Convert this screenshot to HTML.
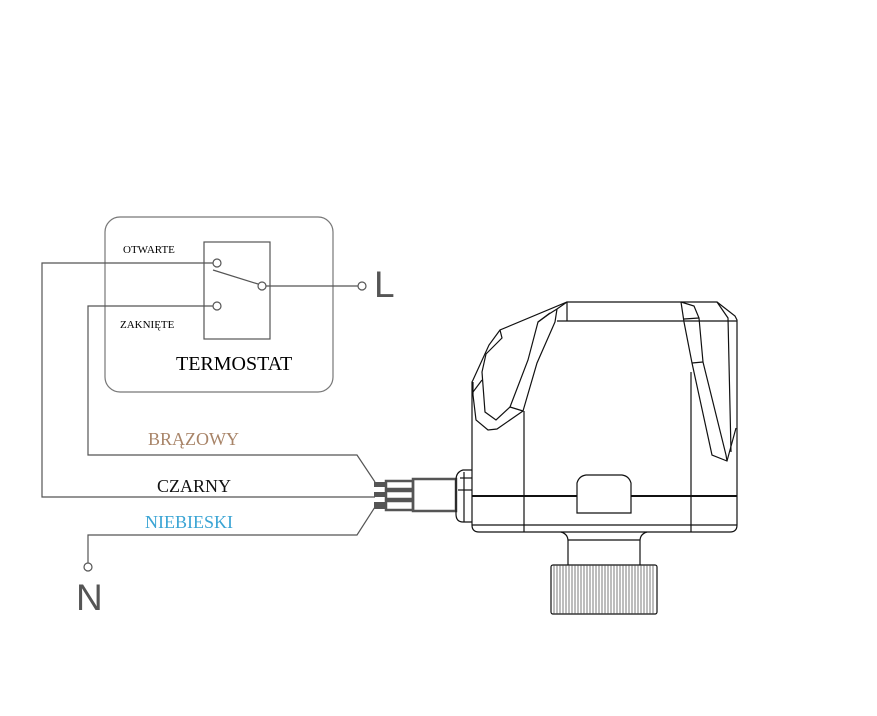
<!DOCTYPE html>
<html><head><meta charset="utf-8"><style>html,body{margin:0;padding:0;background:#fff}svg{display:block}</style></head>
<body>
<svg width="877" height="716" viewBox="0 0 877 716" xmlns="http://www.w3.org/2000/svg">
<rect width="877" height="716" fill="#fff"/>
<rect x="105" y="217" width="228" height="175" rx="15" fill="none" stroke="#777" stroke-width="1.2"/>
<rect x="204" y="242" width="66" height="97" fill="none" stroke="#555" stroke-width="1.2"/>
<g fill="#fff" stroke="#555" stroke-width="1.2">
<line x1="213" y1="270" x2="258" y2="284"/>
<line x1="266" y1="286" x2="358" y2="286"/>
<polyline points="213,263 42,263 42,497 375,497" fill="none"/>
<polyline points="213,306 88,306 88,455 357,455 375,482" fill="none"/>
<polyline points="375,507 357,535 88,535 88,563" fill="none"/>
<circle cx="217" cy="263" r="4"/>
<circle cx="262" cy="286" r="4"/>
<circle cx="217" cy="306" r="4"/>
<circle cx="362" cy="286" r="4"/>
<circle cx="88" cy="567" r="4"/>
</g>
<g font-family="Liberation Serif, serif">
<text x="123" y="253" font-size="11">OTWARTE</text>
<text x="120" y="328" font-size="11">ZAKNIĘTE</text>
<text x="176" y="370" font-size="20">TERMOSTAT</text>
<text x="148" y="445" font-size="18" fill="#a88468">BRĄZOWY</text>
<text x="157" y="492" font-size="18" fill="#111">CZARNY</text>
<text x="145" y="528" font-size="18" fill="#3aa4d4">NIEBIESKI</text>
</g>
<g font-family="Liberation Sans, sans-serif" fill="#555">
<text x="374" y="297" font-size="37">L</text>
<text x="76" y="610" font-size="37">N</text>
</g>
<g fill="none" stroke="#555" stroke-width="2.5">
<rect x="413" y="479" width="43" height="32"/>
<rect x="386" y="481" width="27" height="8"/>
<rect x="386" y="491" width="27" height="8"/>
<rect x="386" y="501" width="27" height="9"/>
</g>
<rect x="374" y="482" width="12" height="5" fill="#555"/>
<rect x="374" y="492" width="12" height="5" fill="#555"/>
<rect x="374" y="502" width="12" height="7" fill="#555"/>
<g fill="none" stroke="#111" stroke-width="1.2">
<path d="M472,470 L463,470 Q456,472 456,480 L456,514 Q456,522 463,522 L472,522"/>
<line x1="460" y1="478" x2="472" y2="478"/>
<line x1="458" y1="490" x2="472" y2="490"/>
<line x1="464" y1="472" x2="464" y2="522"/>
<path d="M472,382 L472,525 Q472,532 479,532 L730,532 Q737,532 737,525 L737,320 L735,316 L717,302 L567,302 L500,330 L489,345 L473,380 Z"/>
<line x1="567" y1="302" x2="567" y2="321"/>
<line x1="557" y1="321" x2="737" y2="321"/>
<line x1="472" y1="525" x2="737" y2="525"/>
<line x1="524" y1="411" x2="524" y2="532"/>
<line x1="691" y1="372" x2="691" y2="532"/>
<path d="M473,382 L473,395 L476,420 L488,430 L497,429 L523,411 L537,363 L555,322 L557,309"/>
<path d="M500,330 L502,338 L486,354 L482,372 L485,412 L496,420 L510,407 L528,360 L538,322 L549,314 L557,309 L567,302"/>
<line x1="510" y1="407" x2="523" y2="411"/>
<line x1="473" y1="392" x2="482" y2="380"/>
<line x1="538" y1="322" x2="550" y2="313"/>
<path d="M681,302 L684,322 L692,363 L712,455 L727,461 L736,428"/>
<path d="M681,302 L694,306 L699,318 L703,362 L726,455 L727,461"/>
<line x1="684" y1="319" x2="699" y2="318"/>
<line x1="692" y1="363" x2="703" y2="362"/>
<path d="M717,302 L728,318 L731,452"/>
</g>
<line x1="472" y1="496" x2="737" y2="496" stroke="#111" stroke-width="2"/>
<path d="M577,513 L577,483 Q579,476 586,475 L622,475 Q629,476 631,483 L631,513 Z" fill="#fff" stroke="#111" stroke-width="1.2"/>
<path d="M561,532 Q568,534 568,541 L568,565 M647,532 Q640,534 640,541 L640,565 M568,540 L640,540" fill="none" stroke="#111" stroke-width="1.2"/>
<rect x="551" y="565" width="106" height="49" rx="2" fill="#fff" stroke="#111" stroke-width="1.2"/>
<g stroke="#444" stroke-width="0.7">
<path d="M554,565V614M557,565V614M560,565V614M563,565V614M566,565V614M569,565V614M572,565V614M575,565V614M578,565V614M581,565V614M584,565V614M587,565V614M590,565V614M593,565V614M596,565V614M599,565V614M602,565V614M605,565V614M608,565V614M611,565V614M614,565V614M617,565V614M620,565V614M623,565V614M626,565V614M629,565V614M632,565V614M635,565V614M638,565V614M641,565V614M644,565V614M647,565V614M650,565V614M653,565V614"/>
</g>
</svg>
</body></html>
